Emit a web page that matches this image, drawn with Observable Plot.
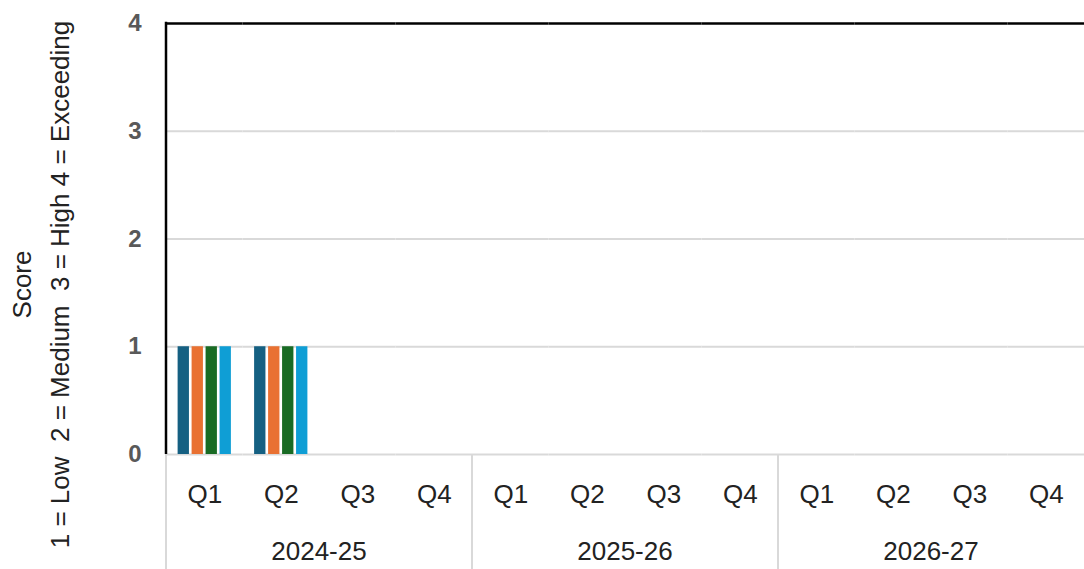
<!DOCTYPE html>
<html>
<head>
<meta charset="utf-8">
<script src="https://cdn.jsdelivr.net/npm/d3@7"></script>
<script src="https://cdn.jsdelivr.net/npm/@observablehq/plot@0.6"></script>
<style>
  html, body { margin: 0; padding: 0; background: #fff; }
  #chart svg { display: block; font-family: "Liberation Sans", Arial, sans-serif; }
</style>
</head>
<body>
<div id="chart"></div>
<script>
// ---- data ----
const years = ["2024-25", "2025-26", "2026-27"];
const quarters = ["Q1", "Q2", "Q3", "Q4"];
const seriesNames = ["Series 1", "Series 2", "Series 3", "Series 4"];
const seriesColors = ["#156082", "#E97132", "#196B24", "#0F9ED5"];
// values per period (12 periods: 3 years x 4 quarters), null = no score
const series1 = [1, 1, null, null, null, null, null, null, null, null, null, null];
const series2 = [1, 1, null, null, null, null, null, null, null, null, null, null];
const series3 = [1, 1, null, null, null, null, null, null, null, null, null, null];
const series4 = [1, 1, null, null, null, null, null, null, null, null, null, null];
const yTicks = [0, 1, 2, 3, 4];
const yLabelLine1 = "Score";
const yLabelLine2 = "1 = Low  2 = Medium  3 = High 4 = Exceeding";

const periods = years.flatMap(y => quarters.map(q => y + " " + q));
const allSeries = [series1, series2, series3, series4];
const rows = [];
periods.forEach((p, i) => {
  allSeries.forEach((vals, s) => {
    rows.push({period: p, year: p.split(" ")[0], quarter: p.split(" ")[1], series: seriesNames[s], value: vals[i]});
  });
});

const W = 1084, H = 569;
const gridColor = "#d9d9d9";
const font = "Liberation Sans, Arial, sans-serif";

const plot = Plot.plot({
  width: W,
  height: H,
  marginLeft: 166,
  marginRight: 0,
  marginTop: 23,
  marginBottom: 115,
  style: {fontFamily: font, background: "#fff"},
  fx: {domain: periods, padding: 0, label: null, round: false},
  x: {domain: seriesNames, paddingInner: 0.19, paddingOuter: 0.83, align: 0.5, round: false, axis: null},
  y: {domain: [0, 4], label: null},
  color: {domain: seriesNames, range: seriesColors},
  marks: [
    Plot.gridY([1, 2, 3], {stroke: gridColor, strokeOpacity: 1, strokeWidth: 2}),
    Plot.ruleY([0], {stroke: gridColor, strokeWidth: 2}),
    Plot.barY(rows, {fx: "period", x: "series", y: "value", fill: "series"}),
    Plot.ruleY([4], {stroke: "#000", strokeWidth: 2.5}),
    Plot.axisY({ticks: yTicks, tickSize: 0, tickPadding: 25, fontSize: 24, fontWeight: "bold", fill: "#595959", label: null, tickFormat: d => String(d)}),
    Plot.axisFx({anchor: "bottom", tickSize: 0, tickPadding: 30, fontSize: 26, fill: "#222", label: null, tickFormat: d => d.split(" ")[1]})
  ]
});

document.getElementById("chart").appendChild(plot);

// ---- decorations derived from the plot's own scales ----
const svg = d3.select(plot);
const fx = plot.scale("fx");
const y = plot.scale("y");
const bw = fx.bandwidth;
const y0 = y.apply(0), y4 = y.apply(4);

const g = svg.append("g");
// left axis line (black) within plot area
const xLeft = fx.apply(periods[0]);
g.append("line").attr("x1", xLeft).attr("x2", xLeft).attr("y1", y4 - 1.2).attr("y2", y0)
  .attr("stroke", "#000").attr("stroke-width", 2.5);
// separators below the axis at year boundaries
years.forEach((yr, i) => {
  const xs = fx.apply(yr + " Q1");
  g.append("line").attr("x1", xs).attr("x2", xs).attr("y1", y0).attr("y2", H)
    .attr("stroke", gridColor).attr("stroke-width", 2);
  // year label centered under its 4 quarters
  const xc = xs + 2 * bw;
  g.append("text").attr("x", xc).attr("y", y0 + 97).attr("dy", "0.35em")
    .attr("text-anchor", "middle").attr("font-size", 26).attr("fill", "#222")
    .attr("font-family", font).text(yr);
});

// rotated y-axis title (two lines)
const cy = H / 2;
[[yLabelLine1, 22], [yLabelLine2, 60]].forEach(([t, x]) => {
  g.append("text").attr("transform", `translate(${x},${cy}) rotate(-90)`)
    .attr("text-anchor", "middle").attr("dy", "0.35em")
    .attr("font-size", 26).attr("fill", "#222").attr("font-family", font)
    .style("white-space", "pre").text(t);
});
</script>
</body>
</html>
